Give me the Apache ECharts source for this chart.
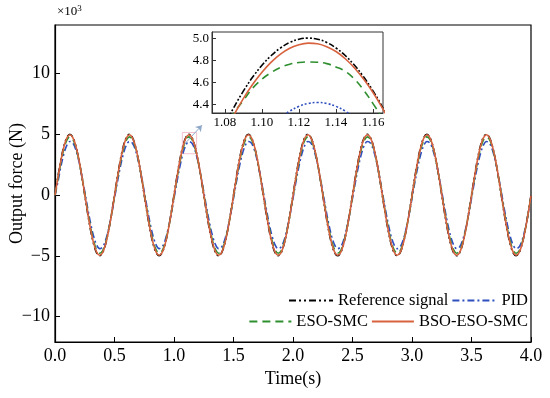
<!DOCTYPE html>
<html>
<head>
<meta charset="utf-8">
<script src="https://cdn.jsdelivr.net/npm/echarts@6/dist/echarts.min.js"></script>
<style>html,body{margin:0;padding:0;background:#fff}#c{width:550px;height:398px}</style>
</head>
<body>
<div id="c"></div>
<script>
// sample times (s)
const times = [
0,0.025,0.05,0.075,0.1,0.125,0.15,0.175,0.2,0.225,0.25,0.275,0.3,0.325,0.35,0.375,0.4,0.425,0.45,0.475,
0.5,0.525,0.55,0.575,0.6,0.625,0.65,0.675,0.7,0.725,0.75,0.775,0.8,0.825,0.85,0.875,0.9,0.925,0.95,0.975,
1,1.025,1.05,1.075,1.1,1.125,1.15,1.175,1.2,1.225,1.25,1.275,1.3,1.325,1.35,1.375,1.4,1.425,1.45,1.475,
1.5,1.525,1.55,1.575,1.6,1.625,1.65,1.675,1.7,1.725,1.75,1.775,1.8,1.825,1.85,1.875,1.9,1.925,1.95,1.975,
2,2.025,2.05,2.075,2.1,2.125,2.15,2.175,2.2,2.225,2.25,2.275,2.3,2.325,2.35,2.375,2.4,2.425,2.45,2.475,
2.5,2.525,2.55,2.575,2.6,2.625,2.65,2.675,2.7,2.725,2.75,2.775,2.8,2.825,2.85,2.875,2.9,2.925,2.95,2.975,
3,3.025,3.05,3.075,3.1,3.125,3.15,3.175,3.2,3.225,3.25,3.275,3.3,3.325,3.35,3.375,3.4,3.425,3.45,3.475,
3.5,3.525,3.55,3.575,3.6,3.625,3.65,3.675,3.7,3.725,3.75,3.775,3.8,3.825,3.85,3.875,3.9,3.925,3.95,3.975,
4];
// Output force (N)
const refSignal = [
0,1545,2939,4045,4755,5000,4755,4045,2939,1545,0,-1545,-2939,-4045,-4755,-5000,-4755,-4045,-2939,-1545,
0,1545,2939,4045,4755,5000,4755,4045,2939,1545,0,-1545,-2939,-4045,-4755,-5000,-4755,-4045,-2939,-1545,
0,1545,2939,4045,4755,5000,4755,4045,2939,1545,0,-1545,-2939,-4045,-4755,-5000,-4755,-4045,-2939,-1545,
0,1545,2939,4045,4755,5000,4755,4045,2939,1545,0,-1545,-2939,-4045,-4755,-5000,-4755,-4045,-2939,-1545,
0,1545,2939,4045,4755,5000,4755,4045,2939,1545,0,-1545,-2939,-4045,-4755,-5000,-4755,-4045,-2939,-1545,
0,1545,2939,4045,4755,5000,4755,4045,2939,1545,0,-1545,-2939,-4045,-4755,-5000,-4755,-4045,-2939,-1545,
0,1545,2939,4045,4755,5000,4755,4045,2939,1545,0,-1545,-2939,-4045,-4755,-5000,-4755,-4045,-2939,-1545,
0,1545,2939,4045,4755,5000,4755,4045,2939,1545,0,-1545,-2939,-4045,-4755,-5000,-4755,-4045,-2939,-1545,
0];
const pid = [
0,1099,2368,3406,4110,4411,4281,3732,2817,1627,278,-1099,-2368,-3406,-4110,-4411,-4281,-3732,-2817,-1627,
-278,1099,2368,3406,4110,4411,4281,3732,2817,1627,278,-1099,-2368,-3406,-4110,-4411,-4281,-3732,-2817,-1627,
-278,1099,2368,3406,4110,4411,4281,3732,2817,1627,278,-1099,-2368,-3406,-4110,-4411,-4281,-3732,-2817,-1627,
-278,1099,2368,3406,4110,4411,4281,3732,2817,1627,278,-1099,-2368,-3406,-4110,-4411,-4281,-3732,-2817,-1627,
-278,1099,2368,3406,4110,4411,4281,3732,2817,1627,278,-1099,-2368,-3406,-4110,-4411,-4281,-3732,-2817,-1627,
-278,1099,2368,3406,4110,4411,4281,3732,2817,1627,278,-1099,-2368,-3406,-4110,-4411,-4281,-3732,-2817,-1627,
-278,1099,2368,3406,4110,4411,4281,3732,2817,1627,278,-1099,-2368,-3406,-4110,-4411,-4281,-3732,-2817,-1627,
-278,1099,2368,3406,4110,4411,4281,3732,2817,1627,278,-1099,-2368,-3406,-4110,-4411,-4281,-3732,-2817,-1627,
-278];
const esoSmc = [
0,1365,2717,3804,4517,4788,4591,3945,2913,1594,120,-1365,-2717,-3804,-4517,-4788,-4591,-3945,-2913,-1594,
-120,1365,2717,3804,4517,4788,4591,3945,2913,1594,120,-1365,-2717,-3804,-4517,-4788,-4591,-3945,-2913,-1594,
-120,1365,2717,3804,4517,4788,4591,3945,2913,1594,120,-1365,-2717,-3804,-4517,-4788,-4591,-3945,-2913,-1594,
-120,1365,2717,3804,4517,4788,4591,3945,2913,1594,120,-1365,-2717,-3804,-4517,-4788,-4591,-3945,-2913,-1594,
-120,1365,2717,3804,4517,4788,4591,3945,2913,1594,120,-1365,-2717,-3804,-4517,-4788,-4591,-3945,-2913,-1594,
-120,1365,2717,3804,4517,4788,4591,3945,2913,1594,120,-1365,-2717,-3804,-4517,-4788,-4591,-3945,-2913,-1594,
-120,1365,2717,3804,4517,4788,4591,3945,2913,1594,120,-1365,-2717,-3804,-4517,-4788,-4591,-3945,-2913,-1594,
-120,1365,2717,3804,4517,4788,4591,3945,2913,1594,120,-1365,-2717,-3804,-4517,-4788,-4591,-3945,-2913,-1594,
-120];
const bsoEsoSmc = [
0,1473,2865,3976,4698,4960,4736,4049,2966,1592,62,-1473,-2865,-3976,-4698,-4960,-4736,-4049,-2966,-1592,
-62,1473,2865,3976,4698,4960,4736,4049,2966,1592,62,-1473,-2865,-3976,-4698,-4960,-4736,-4049,-2966,-1592,
-62,1473,2865,3976,4698,4960,4736,4049,2966,1592,62,-1473,-2865,-3976,-4698,-4960,-4736,-4049,-2966,-1592,
-62,1473,2865,3976,4698,4960,4736,4049,2966,1592,62,-1473,-2865,-3976,-4698,-4960,-4736,-4049,-2966,-1592,
-62,1473,2865,3976,4698,4960,4736,4049,2966,1592,62,-1473,-2865,-3976,-4698,-4960,-4736,-4049,-2966,-1592,
-62,1473,2865,3976,4698,4960,4736,4049,2966,1592,62,-1473,-2865,-3976,-4698,-4960,-4736,-4049,-2966,-1592,
-62,1473,2865,3976,4698,4960,4736,4049,2966,1592,62,-1473,-2865,-3976,-4698,-4960,-4736,-4049,-2966,-1592,
-62,1473,2865,3976,4698,4960,4736,4049,2966,1592,62,-1473,-2865,-3976,-4698,-4960,-4736,-4049,-2966,-1592,
-62];
// inset (zoom near first peak), values in kN
const insetTimes = [1.07,1.075,1.08,1.085,1.09,1.095,1.1,1.105,1.11,1.115,1.12,1.125,1.13,1.135,1.14,1.145,1.15,1.155,1.16,1.165,1.17];
const insetRef = [3.852,4.045,4.221,4.381,4.524,4.649,4.755,4.843,4.911,4.961,4.990,5.000,4.990,4.961,4.911,4.843,4.755,4.649,4.524,4.381,4.221];
const insetPid = [3.222,3.406,3.576,3.732,3.873,3.999,4.110,4.204,4.281,4.342,4.385,4.411,4.420,4.411,4.385,4.342,4.281,4.204,4.110,3.999,3.873];
const insetEso = [3.85,4.03,4.20,4.33,4.44,4.55,4.63,4.69,4.735,4.765,4.780,4.785,4.783,4.770,4.74,4.70,4.63,4.53,4.41,4.28,4.14];
const insetBso = [3.777,3.972,4.150,4.312,4.457,4.584,4.693,4.784,4.855,4.908,4.941,4.955,4.949,4.923,4.879,4.814,4.731,4.629,4.510,4.372,4.217];
const yTicks = [-10000,-5000,0,5000,10000];
const insetYTicks = [4.4,4.6,4.8,5.0];
const insetXTicks = [1.08,1.10,1.12,1.14,1.16];
const names = ['Reference signal','PID','ESO-SMC','BSO-ESO-SMC'];

const colors = ['#000000','#2f4fbf','#2f8f2f','#d8623e'];
const dashes = [[7,3,2,3,2,3],[7,3,2,3],[8,5],'solid'];
const insetDashes = [[6,2,2,2,2,2],[2,2],[8,5],'solid'];
const F = 'Liberation Serif';
const pair = (xs, ys) => xs.map((x,i)=>[x, ys[i]]);
const mainData = [refSignal, pid, esoSmc, bsoEsoSmc];
const insetData = [insetRef, insetPid, insetEso, insetBso];

const series = [];
names.forEach((n,i)=>{
  const s = {
    name: n, type: 'line', xAxisIndex: 0, yAxisIndex: 0,
    data: pair(times, mainData[i]), smooth: 0.35, symbol: 'none',
    lineStyle: {color: colors[i], width: 1.6, type: dashes[i]},
    itemStyle: {color: colors[i]}, z: 2 + i, animation: false
  };
  if (i === 3) {
    s.markArea = {silent: true, itemStyle: {color: 'rgba(0,0,0,0)', borderColor: '#f2c2d0', borderWidth: 1},
      data: [[{xAxis: 1.07, yAxis: 3400}, {xAxis: 1.19, yAxis: 5150}]]};
    s.markLine = {silent: true, symbol: ['none','arrow'], symbolSize: 6, label: {show: false},
      lineStyle: {color: '#8fa8c8', width: 1, type: 'solid'},
      data: [[{coord: [1.07, 4000]}, {coord: [1.235, 5750]}]]};
  }
  series.push(s);
});
names.forEach((n,i)=>{
  series.push({
    name: n, type: 'line', xAxisIndex: 1, yAxisIndex: 1,
    data: pair(insetTimes, insetData[i]), smooth: 0.4, symbol: 'none',
    lineStyle: {color: colors[i], width: 1.6, type: insetDashes[i]},
    itemStyle: {color: colors[i]}, z: 12 + i, clip: true, animation: false
  });
});

const legendText = {fontFamily: F, fontSize: 16.5, color: '#000'};
const option = {
  animation: false,
  backgroundColor: '#fff',
  grid: [
    {left: 55, top: 25, right: 19, bottom: 56, outerBoundsMode: 'none', containLabel: false, show: true, borderColor: '#000', borderWidth: 1.2, backgroundColor: 'transparent'},
    {left: 212, top: 32, width: 171, height: 81, outerBoundsMode: 'none', containLabel: false, show: true, borderColor: '#333', borderWidth: 1, backgroundColor: '#fff', z: 10}
  ],
  xAxis: [
    {type: 'value', gridIndex: 0, min: 0, max: 4, interval: 0.5,
     name: 'Time(s)', nameLocation: 'middle', nameGap: 28, nameMoveOverlap: false,
     nameTextStyle: {fontFamily: F, fontSize: 18, color: '#000'},
     axisLine: {onZero: false, lineStyle: {color: '#000', width: 1.2}},
     axisTick: {inside: true, length: 5, lineStyle: {color: '#000'}},
     axisLabel: {fontFamily: F, fontSize: 18, color: '#000', margin: 5, formatter: v => v.toFixed(1)},
     splitLine: {show: false}},
    {type: 'value', gridIndex: 1, min: 1.073, max: 1.1654, z: 11,
     axisLine: {onZero: false, lineStyle: {color: '#333'}},
     axisTick: {inside: true, length: 4, customValues: insetXTicks, lineStyle: {color: '#333'}},
     axisLabel: {fontFamily: F, fontSize: 13, color: '#000', margin: 3, customValues: insetXTicks, formatter: v => v.toFixed(2)},
     splitLine: {show: false}}
  ],
  yAxis: [
    {type: 'value', gridIndex: 0, min: -12100, max: 14000,
     name: 'Output force (N)', nameLocation: 'middle', nameGap: 29, nameMoveOverlap: false,
     nameTextStyle: {fontFamily: F, fontSize: 18, color: '#000'},
     axisLine: {show: true, onZero: false, lineStyle: {color: '#000', width: 1.2}},
     axisTick: {show: true, inside: true, length: 5, customValues: yTicks, lineStyle: {color: '#000'}},
     axisLabel: {fontFamily: F, fontSize: 18, color: '#000', margin: 5, customValues: yTicks, formatter: v => String(Math.round(v/1000)).replace('-', '\u2212')},
     splitLine: {show: false}},
    {type: 'value', gridIndex: 1, min: 4.325, max: 5.055, z: 11,
     axisLine: {show: true, onZero: false, lineStyle: {color: '#333'}},
     axisTick: {show: true, inside: true, length: 4, customValues: insetYTicks, lineStyle: {color: '#333'}},
     axisLabel: {fontFamily: F, fontSize: 13, color: '#000', margin: 3, customValues: insetYTicks, formatter: v => v.toFixed(1)},
     splitLine: {show: false}}
  ],
  legend: [
    {data: ['Reference signal','PID'], right: 22, top: 292, itemWidth: 44, itemHeight: 10, itemGap: 3, textStyle: legendText, padding: 0, itemStyle: {opacity: 0}},
    {data: ['ESO-SMC','BSO-ESO-SMC'], right: 22, top: 313, itemWidth: 42, itemHeight: 10, itemGap: 3, textStyle: legendText, padding: 0, itemStyle: {opacity: 0}}
  ],
  graphic: [{
    type: 'text', left: 57, top: 4,
    style: {text: '{a|×10}{b|3}', rich: {a: {fontFamily: F, fontSize: 13, fill: '#000'}, b: {fontFamily: F, fontSize: 9, fill: '#000', verticalAlign: 'top', padding: [0,0,6,0]}}}
  }],
  series: series
};
const chart = echarts.init(document.getElementById('c'), null, {renderer: 'canvas'});
chart.setOption(option);
</script>
</body>
</html>
